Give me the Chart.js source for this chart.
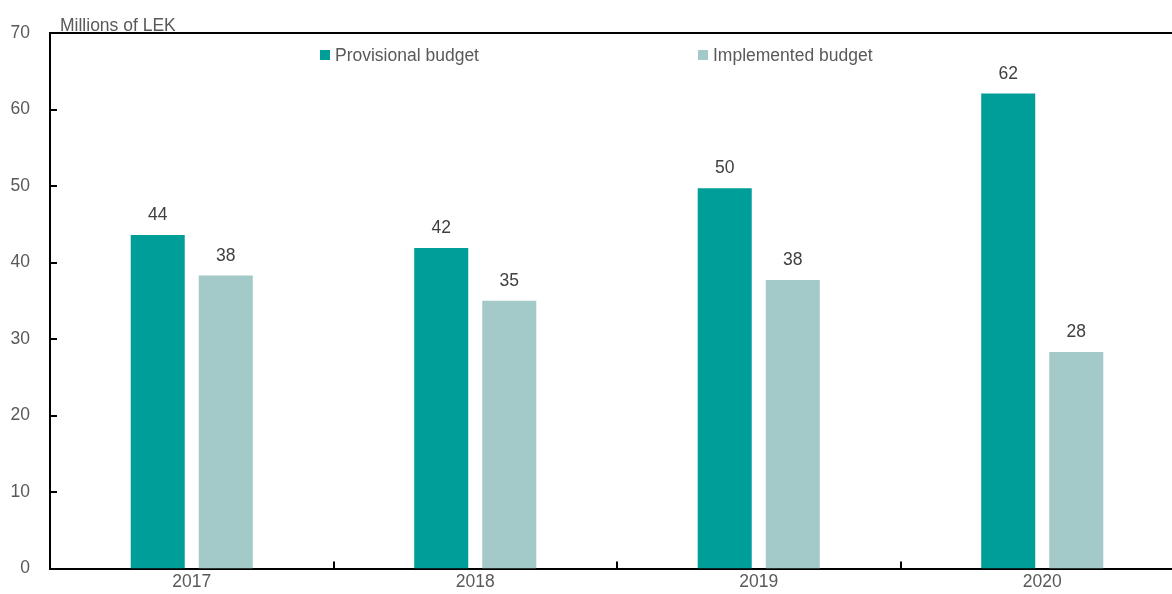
<!DOCTYPE html>
<html>
<head>
<meta charset="utf-8">
<script src="https://cdn.jsdelivr.net/npm/chart.js@4"></script>
<style>
  html, body { margin: 0; padding: 0; overflow: hidden; background: #fff; }
  #wrap { width: 1172px; height: 594px; overflow: hidden; position: relative; }
  canvas { display: block; }
</style>
</head>
<body>
<div id="wrap"><canvas id="c" width="1186" height="599"></canvas></div>
<script>
const categories = ['2017', '2018', '2019', '2020'];
const provisional = [43.6, 41.9, 49.7, 62.1];
const implemented = [38.3, 35.0, 37.7, 28.3];
const seriesNames = ['Provisional budget', 'Implemented budget'];
const yTicks = [0, 10, 20, 30, 40, 50, 60, 70];
const unitLabel = 'Millions of LEK';

const FONT = "'Liberation Sans', Arial, sans-serif";
const FS = 17.5;
const TXT = '#595959';

const decor = {
  id: 'decor',
  afterDatasetsDraw(chart) {
    const ctx = chart.ctx;
    const a = chart.chartArea;
    const x = chart.scales.x, y = chart.scales.y;
    ctx.save();
    ctx.strokeStyle = '#000';
    ctx.lineWidth = 2;
    ctx.beginPath();
    ctx.moveTo(a.left, a.top);
    ctx.lineTo(chart.width, a.top);
    ctx.stroke();
    yTicks.forEach(v => {
      const py = Math.round(y.getPixelForValue(v));
      ctx.beginPath();
      ctx.moveTo(a.left, py);
      ctx.lineTo(a.left + 7, py);
      ctx.stroke();
    });
    for (let i = 1; i < categories.length; i++) {
      const px = Math.round((x.getPixelForValue(i - 1) + x.getPixelForValue(i)) / 2);
      ctx.beginPath();
      ctx.moveTo(px, a.bottom);
      ctx.lineTo(px, a.bottom - 7);
      ctx.stroke();
    }
    ctx.fillStyle = '#404040';
    ctx.font = FS + 'px ' + FONT;
    ctx.textAlign = 'center';
    ctx.textBaseline = 'bottom';
    chart.data.datasets.forEach((ds, di) => {
      chart.getDatasetMeta(di).data.forEach((bar, i) => {
        ctx.fillText(String(Math.round(ds.data[i])), bar.x, bar.y - 11);
      });
    });
    ctx.fillStyle = TXT;
    ctx.textAlign = 'left';
    ctx.textBaseline = 'alphabetic';
    ctx.fillText(unitLabel, 60, 31);
    const legX = [320, 698];
    chart.data.datasets.forEach((ds, di) => {
      ctx.fillStyle = ds.backgroundColor;
      ctx.fillRect(legX[di], 50, 10, 10);
      ctx.fillStyle = TXT;
      ctx.textBaseline = 'middle';
      ctx.fillText(ds.label, legX[di] + 15, 56);
    });
    ctx.restore();
  }
};

new Chart(document.getElementById('c'), {
  type: 'bar',
  data: {
    labels: categories,
    datasets: [
      { label: seriesNames[0], data: provisional, backgroundColor: '#009E99', barPercentage: 0.794, categoryPercentage: 0.48 },
      { label: seriesNames[1], data: implemented, backgroundColor: '#A3C9C8', barPercentage: 0.794, categoryPercentage: 0.48 }
    ]
  },
  options: {
    responsive: false,
    animation: false,
    layout: { padding: { top: 33, right: 2, left: 0, bottom: 0 } },
    plugins: { legend: { display: false }, tooltip: { enabled: false } },
    scales: {
      x: {
        grid: { display: false, drawTicks: false },
        border: { display: true, color: '#000', width: 2 },
        ticks: { color: TXT, font: { family: FONT, size: FS }, padding: 3 },
        afterFit(s) { s.height = 20; }
      },
      y: {
        min: 0, max: 70,
        afterBuildTicks(s) { s.ticks = yTicks.map(v => ({ value: v })); },
        grid: { display: false, drawTicks: false },
        border: { display: true, color: '#000', width: 2 },
        ticks: { color: TXT, font: { family: FONT, size: FS }, padding: 20 },
        afterFit(s) { s.width = 50; }
      }
    }
  },
  plugins: [decor]
});
</script>
</body>
</html>
